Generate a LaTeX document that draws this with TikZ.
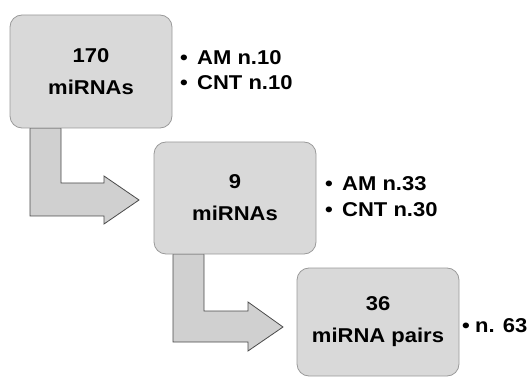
\documentclass[tikz,border=0pt]{standalone}
\usepackage{fontspec}
\setmainfont{Liberation Sans}[FakeStretch=1.1]
\usetikzlibrary{calc}
\definecolor{boxfill}{HTML}{D9D9D9}
\definecolor{boxline}{HTML}{9A9A9A}
\definecolor{arrfill}{HTML}{D0D0D0}
\definecolor{arrline}{HTML}{4A4A4A}
\tikzset{
  box/.style={draw=boxline, line width=0.8pt, fill=boxfill, rounded corners=12pt,
    align=center, inner sep=0pt, font=\fontsize{20}{32}\selectfont\bfseries,
    minimum width=162pt},
  bentarrow/.style={draw=arrline, line width=0.8pt, fill=arrfill, line join=miter},
  bul/.style={anchor=base west, inner sep=0pt, font=\fontsize{20}{25}\selectfont\bfseries}
}
\newcommand{\bitem}[1]{\makebox[17pt][l]{\textbullet}#1}
\begin{document}
\begin{tikzpicture}[x=1pt,y=-1pt]
\useasboundingbox (0,0) rectangle (532,379);
% boxes (positions)
\coordinate (c1) at (91,71.5);
\coordinate (c2) at (235,198);
\coordinate (c3) at (378,322);
% arrows first (behind boxes)
\path (c1) ++(0,56.5) coordinate (s1);
\draw[bentarrow] ($(s1)+(-61,0)$) -- ($(s1)+(-30,0)$) -- ($(s1)+(-30,55)$) -- ($(s1)+(13,55)$)
  -- ($(s1)+(13,48)$) -- ($(s1)+(48,72)$) coordinate (t1) -- ($(s1)+(13,96)$) -- ($(s1)+(13,88)$)
  -- ($(s1)+(-61,88)$) -- cycle;
\path (c2) ++(0,56) coordinate (s2);
\draw[bentarrow] ($(s2)+(-62,0)$) -- ($(s2)+(-31,0)$) -- ($(s2)+(-31,57)$) -- ($(s2)+(13,57)$)
  -- ($(s2)+(13,48)$) -- ($(s2)+(48,73)$) coordinate (t2) -- ($(s2)+(13,97)$) -- ($(s2)+(13,88)$)
  -- ($(s2)+(-62,88)$) -- cycle;
\node[box, minimum height=113pt] (b1) at (c1) {170\\miRNAs};
\node[box, minimum height=112pt] (b2) at (c2) {9\\miRNAs};
\node[box, minimum height=108pt] (b3) at (c3) {36\\miRNA pairs};
% bullet lists
\node[bul] (l1a) at (180,65) {\bitem{AM n.10}};
\node[bul] (l1b) at (180,90) {\bitem{CNT n.10}};
\node[bul] (l2a) at (325,191) {\bitem{AM n.33}};
\node[bul] (l2b) at (325,217) {\bitem{CNT n.30}};
\node[bul] (l3a) at (462,332) {\makebox[13pt][l]{\textbullet}n. 63};
\end{tikzpicture}
\end{document}
